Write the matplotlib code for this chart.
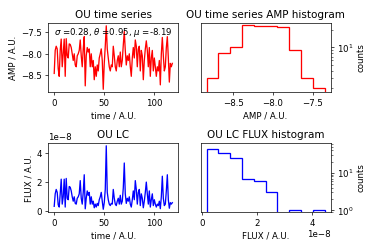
import numpy as np
import matplotlib
matplotlib.use("Agg")
import matplotlib.pyplot as plt

# ---- data ----
flux_scale = 1e-8
flux_lc = [0.35, 1.2, 1.5, 1.3, 0.45, 0.3, 1.2, 2.2, 0.5, 1.0,
           2.2, 0.3, 2.25, 0.9, 0.8, 1.7, 1.65, 1.4, 1.0, 0.7,
           1.0, 0.55, 0.5, 0.9, 1.0, 1.2, 2.1, 0.9, 0.5, 1.3,
           2.5, 0.18, 0.9, 1.4, 1.1, 1.3, 0.5, 1.0, 0.5, 0.7,
           0.25, 0.5, 0.3, 0.55, 0.4, 0.8, 1.0, 1.3, 0.7, 0.15,
           0.6, 1.5, 4.47, 1.3, 0.8, 0.5, 0.4, 0.55, 0.5, 1.5,
           0.9, 0.5, 0.4, 0.7, 0.9, 0.5, 1.1, 0.5, 0.7, 1.6,
           3.3, 1.2, 0.55, 0.9, 0.7, 1.0, 0.5, 0.3, 0.8, 1.4,
           0.8, 2.1, 1.5, 0.5, 1.3, 1.5, 0.4, 1.2, 0.9, 0.25,
           0.7, 1.3, 2.0, 1.2, 0.5, 1.4, 0.3, 0.8, 1.2, 0.4,
           0.8, 0.5, 0.3, 0.5, 0.4, 0.7, 0.19, 1.0, 2.4, 0.9,
           0.4, 0.5, 1.4, 2.5, 0.8, 0.22, 0.6, 0.5, 0.6]
time = np.arange(len(flux_lc))
flux = np.array(flux_lc) * flux_scale
amp = np.log10(flux)

sigma, theta, mu = 0.28, 0.95, -8.19

amp_edges = [-8.835, -8.6865, -8.538, -8.3895, -8.241, -8.0925,
             -7.944, -7.7955, -7.647, -7.4985, -7.35]
amp_counts = [3, 8, 10, 24, 23, 23, 22, 9, 3, 2]

flux_edges = [0.16, 0.59, 1.02, 1.45, 1.88, 2.31, 2.74, 3.17, 3.60, 4.03, 4.46]
flux_counts = [42, 33, 25, 7, 6, 3, 0, 1, 0, 1]
flux_ticks = [0, 2, 4]

# ---- figure ----
fig, axs = plt.subplots(2, 2, figsize=(6, 4), dpi=62.35)
fig.subplots_adjust(left=0.1291, right=0.8837, top=0.9076, bottom=0.1466,
                    wspace=0.1724, hspace=0.719)

ax = axs[0, 0]
ax.plot(time, amp, color='red')
ax.set_title('OU time series')
ax.set_xlabel('time / A.U.')
ax.set_ylabel('AMP / A.U.')
ax.text(0.045, 0.865, r'$\sigma$ =%.2f, $\theta$ =%.2f, $\mu$ =%.2f' % (sigma, theta, mu),
        transform=ax.transAxes, ha='left', va='center')

ax = axs[0, 1]
ax.stairs(amp_counts, amp_edges, color='red', linewidth=1.5, baseline=0)
ax.set_yscale('log')
ax.set_ylim(1.71, 26.4)
ax.yaxis.tick_right()
ax.yaxis.set_label_position('right')
ax.set_ylabel('counts')
ax.set_xlabel('AMP / A.U.')
ax.set_title('OU time series AMP histogram')
ax.set_xlim(-8.909, -7.276)

ax = axs[1, 0]
ax.plot(time, flux, color='blue')
ax.set_title('OU LC')
ax.set_xlabel('time / A.U.')
ax.set_ylabel('FLUX / A.U.')

ax = axs[1, 1]
ax.stairs(flux_counts, np.array(flux_edges) * flux_scale, color='blue', linewidth=1.5, baseline=0)
ax.set_yscale('log')
ax.set_ylim(0.874, 64)
ax.yaxis.tick_right()
ax.yaxis.set_label_position('right')
ax.set_ylabel('counts')
ax.set_xlabel('FLUX / A.U.')
ax.set_title('OU LC FLUX histogram')
ax.set_xlim(-0.055e-8, 4.675e-8)
ax.set_xticks(np.array(flux_ticks) * flux_scale)

fig.savefig('out.png', dpi=62.35)
